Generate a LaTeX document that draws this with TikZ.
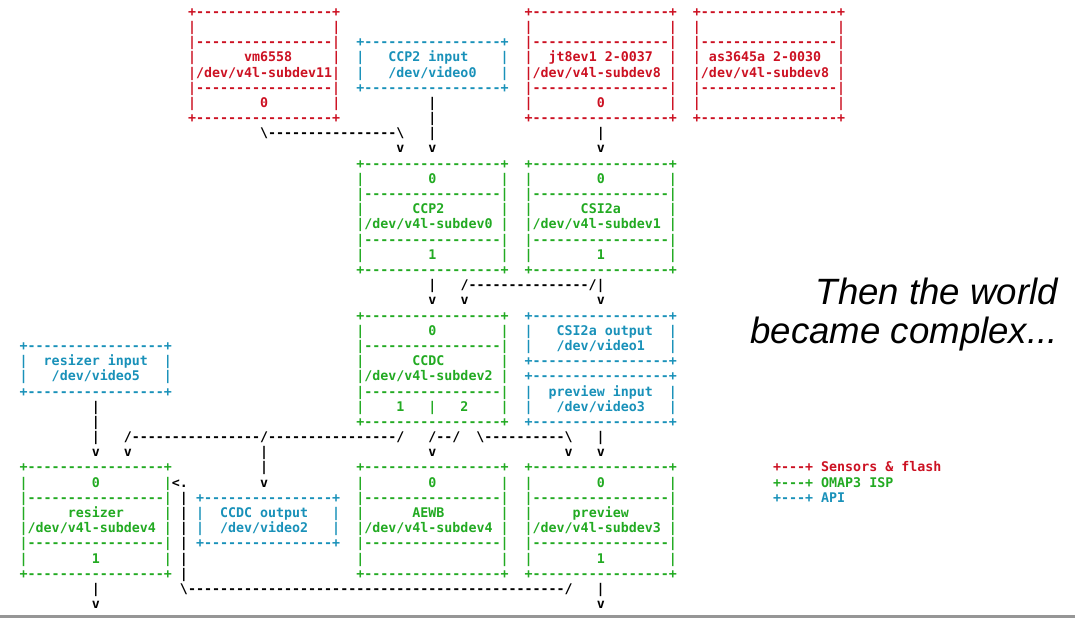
\documentclass[tikz,border=0pt]{standalone}
\usepackage{fontspec}
\setmainfont{Liberation Sans}
\setmonofont{DejaVu Sans Mono}
\usepackage{tikz}
\definecolor{sensred}{RGB}{204,17,34}
\definecolor{ispgreen}{RGB}{34,170,34}
\definecolor{apiblue}{RGB}{25,145,185}
\definecolor{rulegray}{RGB}{150,150,150}
\tikzset{
	ascii/.style={font=\ttfamily\bfseries\fontsize{13.31pt}{15.19pt}\selectfont,inner sep=0pt,anchor=base west,yshift=-1pt},
	sensor/.style={ascii,text=sensred},
	isp/.style={ascii,text=ispgreen},
	api/.style={ascii,text=apiblue},
	wire/.style={ascii,text=black},
	title/.style={font=\itshape\fontsize{36.6pt}{39pt}\selectfont,inner sep=0pt,anchor=base east}
}

\begin{document}
\begin{tikzpicture}[x=8.015pt,y=-15.19pt]
	\useasboundingbox (-2.932,-0.7242) rectangle (131.19,40.29);
	% sensors & flash
	\foreach \l [count=\i from 0] in {+-----------------+,|~~~~~~~~~~~~~~~~~|,|-----------------|,|~~~~~~vm6558~~~~~|,|/dev/v4l-subdev11|,|-----------------|,|~~~~~~~~0~~~~~~~~|,+-----------------+}
		\node[sensor] (vm6558-\i) at (20.5,\i+.28) {\l};
	\foreach \l [count=\i from 0] in {+-----------------+,|~~~~~~~~~~~~~~~~~|,|-----------------|,|~~jt8ev1~2-0037~~|,|/dev/v4l-subdev8~|,|-----------------|,|~~~~~~~~0~~~~~~~~|,+-----------------+}
		\node[sensor] (jt8ev1-\i) at (62.5,\i+.28) {\l};
	\foreach \l [count=\i from 0] in {+-----------------+,|~~~~~~~~~~~~~~~~~|,|-----------------|,|~as3645a~2-0030~~|,|/dev/v4l-subdev8~|,|-----------------|,|~~~~~~~~~~~~~~~~~|,+-----------------+}
		\node[sensor] (as3645a-\i) at (83.5,\i+.28) {\l};
	% video nodes
	\foreach \l [count=\i from 2] in {+-----------------+,|~~~CCP2~input~~~~|,|~~~/dev/video0~~~|,+-----------------+}
		\node[api] (ccp2in-\i) at (41.5,\i+.28) {\l};
	\foreach \l [count=\i from 20] in {+-----------------+,|~~~CSI2a~output~~|,|~~~/dev/video1~~~|,+-----------------+}
		\node[api] (csi2out-\i) at (62.5,\i+.28) {\l};
	\foreach \l [count=\i from 24] in {+-----------------+,|~~preview~input~~|,|~~~/dev/video3~~~|,+-----------------+}
		\node[api] (prvin-\i) at (62.5,\i+.28) {\l};
	\foreach \l [count=\i from 22] in {+-----------------+,|~~resizer~input~~|,|~~~/dev/video5~~~|,+-----------------+}
		\node[api] (rszin-\i) at (-.5,\i+.28) {\l};
	\foreach \l [count=\i from 32] in {+----------------+,|~~CCDC~output~~~|,|~~/dev/video2~~~|,+----------------+}
		\node[api] (ccdcout-\i) at (21.5,\i+.28) {\l};
	% isp blocks
	\foreach \l [count=\i from 10] in {+-----------------+,|~~~~~~~~0~~~~~~~~|,|-----------------|,|~~~~~~CCP2~~~~~~~|,|/dev/v4l-subdev0~|,|-----------------|,|~~~~~~~~1~~~~~~~~|,+-----------------+}
		\node[isp] (ccp2-\i) at (41.5,\i+.28) {\l};
	\foreach \l [count=\i from 10] in {+-----------------+,|~~~~~~~~0~~~~~~~~|,|-----------------|,|~~~~~~CSI2a~~~~~~|,|/dev/v4l-subdev1~|,|-----------------|,|~~~~~~~~1~~~~~~~~|,+-----------------+}
		\node[isp] (csi2a-\i) at (62.5,\i+.28) {\l};
	\foreach \l [count=\i from 20] in {+-----------------+,|~~~~~~~~0~~~~~~~~|,|-----------------|,|~~~~~~CCDC~~~~~~~|,|/dev/v4l-subdev2~|,|-----------------|,|~~~~1~~~|~~~2~~~~|,+-----------------+}
		\node[isp] (ccdc-\i) at (41.5,\i+.28) {\l};
	\foreach \l [count=\i from 30] in {+-----------------+,|~~~~~~~~0~~~~~~~~|,|-----------------|,|~~~~~resizer~~~~~|,|/dev/v4l-subdev4~|,|-----------------|,|~~~~~~~~1~~~~~~~~|,+-----------------+}
		\node[isp] (resizer-\i) at (-.5,\i+.28) {\l};
	\foreach \l [count=\i from 30] in {+-----------------+,|~~~~~~~~0~~~~~~~~|,|-----------------|,|~~~~~~AEWB~~~~~~~|,|/dev/v4l-subdev4~|,|-----------------|,|~~~~~~~~~~~~~~~~~|,+-----------------+}
		\node[isp] (aewb-\i) at (41.5,\i+.28) {\l};
	\foreach \l [count=\i from 30] in {+-----------------+,|~~~~~~~~0~~~~~~~~|,|-----------------|,|~~~~~preview~~~~~|,|/dev/v4l-subdev3~|,|-----------------|,|~~~~~~~~1~~~~~~~~|,+-----------------+}
		\node[isp] (preview-\i) at (62.5,\i+.28) {\l};
	% links
	\node[wire] (ccp2in-link6) at (50.5,6.28) {|};
	\node[wire] (ccp2in-link7) at (50.5,7.28) {|};
	\node[wire] (vm6558-link) at (29.5,8.28) {\textbackslash----------------\textbackslash~~~|};
	\node[wire] (jt8ev1-link) at (71.5,8.28) {|};
	\node[wire] (ccp2-in) at (46.5,9.28) {v~~~v};
	\node[wire] (csi2a-in) at (71.5,9.28) {v};
	\node[wire] (ccp2-out) at (50.5,18.28) {|~~~/---------------/|};
	\node[wire] (ccdc-in) at (50.5,19.28) {v~~~v};
	\node[wire] (csi2out-in) at (71.5,19.28) {v};
	\node[wire] (rszin-link26) at (8.5,26.28) {|};
	\node[wire] (rszin-link27) at (8.5,27.28) {|};
	\node[wire] (ccdc-out) at (8.5,28.28) {|~~~/----------------/----------------/~~~/--/~~\textbackslash----------\textbackslash~~~|};
	\node[wire] (resizer-in) at (8.5,29.28) {v~~~v};
	\node[wire] (ccdcout-link29) at (29.5,29.28) {|};
	\node[wire] (aewb-in) at (50.5,29.28) {v};
	\node[wire] (preview-in) at (67.5,29.28) {v~~~v};
	\node[wire] (ccdcout-link30) at (29.5,30.28) {|};
	\node[wire] (ccdcout-in) at (29.5,31.28) {v};
	\node[wire] (resizer-back) at (18.5,31.28) {<.};
	\foreach \i in {32,...,37}
		\node[wire] (prv-link-\i) at (19.5,\i+.28) {|};
	\node[wire] (resizer-out) at (8.5,38.28) {|};
	\node[wire] (preview-out) at (19.5,38.28) {\textbackslash-----------------------------------------------/~~~|};
	\node[wire] (resizer-end) at (8.5,39.28) {v};
	\node[wire] (preview-end) at (71.5,39.28) {v};
	% legend
	\node[sensor] (leg-sens) at (93.5,30.28) {+---+~Sensors~\&~flash};
	\node[isp] (leg-isp) at (93.5,31.28) {+---+~OMAP3~ISP};
	\node[api] (leg-api) at (93.5,32.28) {+---+~API};
	\node[title] (title1) at (129.07,19.35) {Then the world};
	\node[title] (title2) at (129.07,21.92) {became complex...};
	\draw[rulegray,line width=2.7pt] (-2.932,39.88) -- (131.19,39.88);
\end{tikzpicture}
\end{document}
